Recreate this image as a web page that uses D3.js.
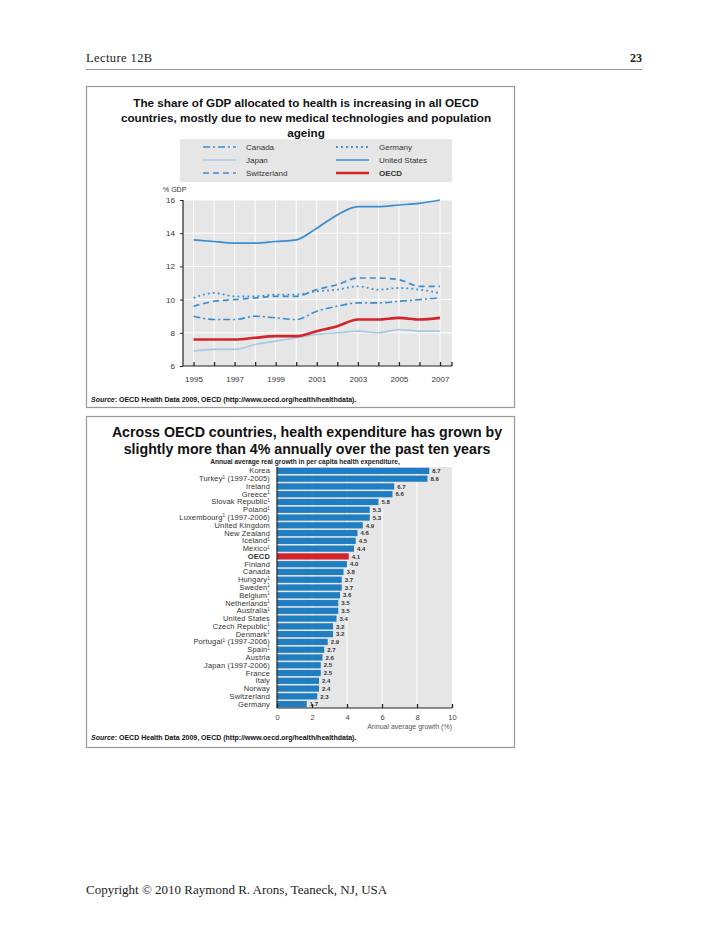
<!DOCTYPE html>
<html>
<head>
<meta charset="utf-8">
<script src="https://cdn.jsdelivr.net/npm/d3@7"></script>
<style>
  html, body { margin: 0; padding: 0; background: #fff; }
  svg { display: block; }
  text { font-family: "Liberation Sans", Arial, sans-serif; }
  .serif { font-family: "Liberation Serif", "DejaVu Serif", serif; }
</style>
</head>
<body>
<svg id="page" width="728" height="943"></svg>
<script>
// ---------- DATA ----------
const years = [1995, 1996, 1997, 1998, 1999, 2000, 2001, 2002, 2003, 2004, 2005, 2006, 2007];
const canada      = [9.0, 8.8, 8.8, 9.0, 8.9, 8.8, 9.3, 9.6, 9.8, 9.8, 9.9, 10.0, 10.1];
const germany     = [10.1, 10.4, 10.2, 10.2, 10.3, 10.3, 10.5, 10.6, 10.8, 10.6, 10.7, 10.6, 10.4];
const japan       = [6.9, 7.0, 7.0, 7.3, 7.5, 7.7, 7.9, 8.0, 8.1, 8.0, 8.2, 8.1, 8.1];
const unitedStates= [13.6, 13.5, 13.4, 13.4, 13.5, 13.6, 14.3, 15.1, 15.6, 15.6, 15.7, 15.8, 16.0];
const switzerland = [9.6, 9.9, 10.0, 10.1, 10.2, 10.2, 10.6, 10.9, 11.3, 11.3, 11.2, 10.8, 10.8];
const oecdShare   = [7.6, 7.6, 7.6, 7.7, 7.8, 7.8, 8.1, 8.4, 8.8, 8.8, 8.9, 8.8, 8.9];
const yTicksGdp   = [6, 8, 10, 12, 14, 16];
const xTickYears  = [1995, 1997, 1999, 2001, 2003, 2005, 2007];

const countries = ["Korea", "Turkey¹ (1997-2005)", "Ireland", "Greece¹", "Slovak Republic¹", "Poland¹",
  "Luxembourg¹ (1997-2006)", "United Kingdom", "New Zealand", "Iceland¹", "Mexico¹", "OECD", "Finland",
  "Canada", "Hungary¹", "Sweden¹", "Belgium¹", "Netherlands¹", "Australia¹", "United States",
  "Czech Republic¹", "Denmark¹", "Portugal¹ (1997-2006)", "Spain¹", "Austria", "Japan (1997-2006)",
  "France", "Italy", "Norway", "Switzerland", "Germany"];
const growth = [8.7, 8.6, 6.7, 6.6, 5.8, 5.3, 5.3, 4.9, 4.6, 4.5, 4.4, 4.1, 4.0, 3.8, 3.7, 3.7, 3.6,
  3.5, 3.5, 3.4, 3.2, 3.2, 2.9, 2.7, 2.6, 2.5, 2.5, 2.4, 2.4, 2.3, 1.7];
const growthTicks = [0, 2, 4, 6, 8, 10];

// ---------- STYLE ----------
const BLUE = "#3a8dd0", LIGHT = "#a9c7e6", RED = "#d3242b", BAR = "#1f7ec2";
const seriesDefs = [
  { name: "Canada", values: canada, color: BLUE, dash: "7,3,2,3", w: 1.6, col: 0, row: 0 },
  { name: "Japan", values: japan, color: LIGHT, dash: null, w: 1.6, col: 0, row: 1 },
  { name: "Switzerland", values: switzerland, color: BLUE, dash: "6,4", w: 1.7, col: 0, row: 2 },
  { name: "Germany", values: germany, color: BLUE, dash: "1.8,3.2", w: 1.8, col: 1, row: 0 },
  { name: "United States", values: unitedStates, color: BLUE, dash: null, w: 1.7, col: 1, row: 1 },
  { name: "OECD", values: oecdShare, color: RED, dash: null, w: 2.6, col: 1, row: 2 }
];

const svg = d3.select("#page");

// ---------- PAGE ----------
svg.append("text").attr("class", "serif").attr("x", 86).attr("y", 62)
  .attr("font-size", 12.5).attr("letter-spacing", 0.4).attr("fill", "#222").text("Lecture 12B");
svg.append("text").attr("class", "serif").attr("x", 642).attr("y", 62).attr("text-anchor", "end")
  .attr("font-size", 12).attr("font-weight", "bold").attr("fill", "#222").text("23");
svg.append("line").attr("x1", 86).attr("x2", 642).attr("y1", 69.5).attr("y2", 69.5)
  .attr("stroke", "#999").attr("stroke-width", 1);
svg.append("text").attr("class", "serif").attr("x", 86).attr("y", 894)
  .attr("font-size", 13).attr("fill", "#222").text("Copyright © 2010 Raymond R. Arons, Teaneck, NJ, USA");

// boxes
svg.append("rect").attr("x", 86.5).attr("y", 86.5).attr("width", 428).attr("height", 321)
  .attr("fill", "#fff").attr("stroke", "#999").attr("stroke-width", 1.2);
svg.append("rect").attr("x", 86.5).attr("y", 416.5).attr("width", 428).attr("height", 331)
  .attr("fill", "#fff").attr("stroke", "#999").attr("stroke-width", 1.2);

function source(y) {
  const t = svg.append("text").attr("x", 91).attr("y", y).attr("font-size", 7)
    .attr("font-weight", "bold").attr("fill", "#111");
  t.append("tspan").attr("font-style", "italic").text("Source");
  t.append("tspan").text(": OECD Health Data 2009, OECD (http://www.oecd.org/health/healthdata).");
}
source(402);
source(740);

// ---------- TOP CHART ----------
const titleTop = ["The share of GDP allocated to health is increasing in all OECD",
  "countries, mostly due to new medical technologies and population", "ageing"];
titleTop.forEach((s, i) => svg.append("text").attr("x", 306).attr("y", 107 + i * 15)
  .attr("text-anchor", "middle").attr("font-size", 11.7).attr("font-weight", "bold")
  .attr("fill", "#111").text(s));

// legend
svg.append("rect").attr("x", 180).attr("y", 139).attr("width", 272).attr("height", 43).attr("fill", "#e6e6e6");
const legendX = [203, 336];
seriesDefs.forEach(s => {
  const x0 = legendX[s.col], y0 = 147 + s.row * 13;
  svg.append("line").attr("x1", x0).attr("x2", x0 + 33).attr("y1", y0).attr("y2", y0)
    .attr("stroke", s.color).attr("stroke-width", s.w).attr("stroke-dasharray", s.dash);
  svg.append("text").attr("x", x0 + 43).attr("y", y0 + 2.8).attr("font-size", 8)
    .attr("font-weight", s.name === "OECD" ? "bold" : "normal").attr("fill", "#333").text(s.name);
});

const plot = { left: 183, right: 452, top: 200, bottom: 366 };
const x = d3.scaleLinear().domain([1995, 2007]).range([193.5, 440]);
const y = d3.scaleLinear().domain([6, 16]).range([plot.bottom, plot.top]);

svg.append("rect").attr("x", plot.left).attr("y", plot.top).attr("width", plot.right - plot.left)
  .attr("height", plot.bottom - plot.top).attr("fill", "#e6e6e6");
// gridlines
svg.append("g").selectAll("line").data(years).join("line")
  .attr("x1", d => x(d)).attr("x2", d => x(d)).attr("y1", plot.top).attr("y2", plot.bottom)
  .attr("stroke", "#fff").attr("stroke-width", 1);
svg.append("g").selectAll("line").data(yTicksGdp.slice(1)).join("line")
  .attr("x1", plot.left).attr("x2", plot.right).attr("y1", d => y(d)).attr("y2", d => y(d))
  .attr("stroke", "#fff").attr("stroke-width", 1);

const line = d3.line().x((d, i) => x(years[i])).y(d => y(d)).curve(d3.curveMonotoneX);
const drawOrder = ["Japan", "Canada", "Germany", "Switzerland", "United States", "OECD"];
drawOrder.forEach(n => {
  const s = seriesDefs.find(d => d.name === n);
  svg.append("path").datum(s.values).attr("d", line).attr("fill", "none")
    .attr("stroke", s.color).attr("stroke-width", s.w).attr("stroke-dasharray", s.dash)
    .attr("stroke-linejoin", "round");
});

// axes
const yAxis = svg.append("g").attr("transform", `translate(${plot.left},0)`)
  .call(d3.axisLeft(y).tickValues(yTicksGdp).tickSize(3).tickPadding(5));
yAxis.select(".domain").remove();
yAxis.selectAll("text").attr("font-size", 8).attr("fill", "#333").attr("font-family", "Liberation Sans");
yAxis.selectAll("line").attr("stroke", "#222");
svg.append("line").attr("x1", plot.left).attr("x2", plot.left).attr("y1", plot.top).attr("y2", plot.bottom)
  .attr("stroke", "#222").attr("stroke-width", 1.2);

const xAxis = svg.append("g").attr("transform", `translate(0,${plot.bottom})`)
  .call(d3.axisBottom(x).tickValues(years).tickSize(-4).tickPadding(10)
    .tickFormat(d => xTickYears.includes(d) ? d3.format("d")(d) : ""));
xAxis.select(".domain").remove();
xAxis.selectAll("text").attr("font-size", 8).attr("fill", "#333").attr("font-family", "Liberation Sans");
xAxis.selectAll("line").attr("stroke", "#222").attr("stroke-width", 1.3);
svg.append("line").attr("x1", plot.left).attr("x2", plot.right).attr("y1", plot.bottom).attr("y2", plot.bottom)
  .attr("stroke", "#222").attr("stroke-width", 1.2);
svg.append("line").attr("x1", plot.right).attr("x2", plot.right).attr("y1", plot.bottom - 4).attr("y2", plot.bottom)
  .attr("stroke", "#222").attr("stroke-width", 1.3);
svg.append("text").attr("x", 163).attr("y", 192).attr("font-size", 7).attr("fill", "#333").text("% GDP");

// ---------- BOTTOM CHART ----------
const titleBot = ["Across OECD countries, health expenditure has grown by",
  "slightly more than 4% annually over the past ten years"];
titleBot.forEach((s, i) => svg.append("text").attr("x", 307).attr("y", 437 + i * 17)
  .attr("text-anchor", "middle").attr("font-size", 14.2).attr("font-weight", "bold")
  .attr("fill", "#111").text(s));
svg.append("text").attr("x", 305).attr("y", 464).attr("text-anchor", "middle")
  .attr("font-size", 6.6).attr("font-weight", "bold").attr("fill", "#222")
  .text("Annual average real growth in per capita health expenditure,");

const bp = { left: 277, right: 452, top: 467, bottom: 708 };
const bx = d3.scaleLinear().domain([0, 10]).range([bp.left, bp.right]);
const by = d3.scaleBand().domain(countries).range([bp.top, bp.bottom]).paddingInner(0.2).paddingOuter(0.1);

svg.append("rect").attr("x", bp.left).attr("y", bp.top).attr("width", bp.right - bp.left)
  .attr("height", bp.bottom - bp.top).attr("fill", "#e6e6e6");
svg.append("g").selectAll("line").data(growthTicks.slice(1, -1)).join("line")
  .attr("x1", d => bx(d)).attr("x2", d => bx(d)).attr("y1", bp.top).attr("y2", bp.bottom)
  .attr("stroke", "#fff").attr("stroke-width", 1);

svg.append("g").selectAll("rect").data(countries).join("rect")
  .attr("x", bx(0)).attr("y", d => by(d)).attr("height", by.bandwidth())
  .attr("width", (d, i) => bx(growth[i]) - bx(0))
  .attr("fill", d => d === "OECD" ? RED : BAR);

svg.append("g").selectAll("text").data(countries).join("text")
  .attr("x", (d, i) => bx(growth[i]) + 3).attr("y", d => by(d) + by.bandwidth() / 2 + 2.2)
  .attr("font-size", 6).attr("font-weight", "bold").attr("fill", "#333")
  .text((d, i) => d3.format(".1f")(growth[i]));

// country labels, "¹" drawn as a raised small "1"
svg.append("g").selectAll("text").data(countries).join("text")
  .attr("x", 270).attr("y", d => by(d) + by.bandwidth() / 2 + 2.5).attr("text-anchor", "end")
  .attr("font-size", 7.5).attr("letter-spacing", 0.15)
  .attr("font-weight", d => d === "OECD" ? "bold" : "normal")
  .attr("fill", "#333")
  .each(function (d) {
    const t = d3.select(this);
    const parts = d.split("¹");
    let raised = false;
    parts.forEach((p, i) => {
      if (p) t.append("tspan").attr("dy", raised ? 2.6 : null).text(p);
      else if (raised) t.append("tspan").attr("dy", 2.6).text("");
      raised = false;
      if (i < parts.length - 1) {
        t.append("tspan").attr("font-size", 4.6).attr("dy", -2.6).text("1");
        raised = true;
      }
    });
  });

const bAxis = svg.append("g").attr("transform", `translate(0,${bp.bottom})`)
  .call(d3.axisBottom(bx).tickValues(growthTicks).tickSize(-4).tickPadding(7));
bAxis.select(".domain").remove();
bAxis.selectAll("text").attr("font-size", 7.5).attr("fill", "#444").attr("font-family", "Liberation Sans");
bAxis.selectAll("line").attr("stroke", "#222").attr("stroke-width", 1.3);
svg.append("line").attr("x1", bp.left).attr("x2", bp.right).attr("y1", bp.bottom).attr("y2", bp.bottom)
  .attr("stroke", "#222").attr("stroke-width", 1.2);
svg.append("line").attr("x1", bp.left).attr("x2", bp.left).attr("y1", bp.top).attr("y2", bp.bottom)
  .attr("stroke", "#222").attr("stroke-width", 1.2);
svg.append("text").attr("x", bp.right).attr("y", 729).attr("text-anchor", "end")
  .attr("font-size", 7).attr("fill", "#555").text("Annual average growth (%)");
</script>
</body>
</html>
